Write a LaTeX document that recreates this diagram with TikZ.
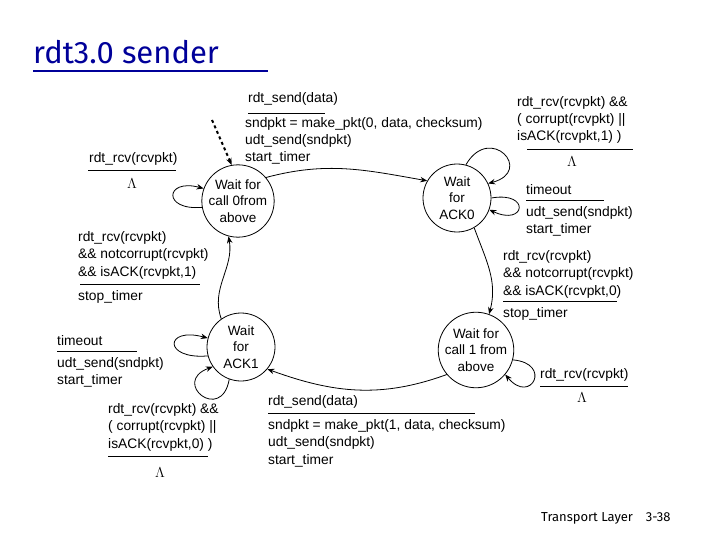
\documentclass[tikz,border=0pt]{standalone}
\usepackage{fontspec}
\setmainfont{Liberation Sans}
\newfontfamily\titlefont{Fira Sans}
\usetikzlibrary{arrows.meta}
\begin{document}
\begin{tikzpicture}[x=1pt,y=-1pt,
  state/.style={circle, draw, thick, minimum size=68pt, inner sep=0pt, align=center, font=\fontsize{13.5}{16.5}\selectfont},
  lbl/.style={anchor=north west, inner sep=0pt, align=left, font=\fontsize{13.8}{17.4}\selectfont},
  lam/.style={inner sep=0pt, font=\fontsize{15}{16}\selectfont},
  trans/.style={->, >={Stealth[length=7pt,width=5.5pt]}, thick},
  bar/.style={thick}]
\useasboundingbox (0,0) rectangle (720,540);
%\draw [help lines, step=50] (0,0) grid (720,540);

% title and footer
\node [anchor=base west, inner sep=0pt, text=blue!60!black, font=\titlefont\fontsize{31}{34}\selectfont] (title) at (33,64) {rdt3.0 sender};
\draw [blue!60!black, line width=1.5pt] (33,71)--(268,71);
\node [anchor=base west, inner sep=0pt, font=\titlefont\fontsize{13}{15}\selectfont] (foot) at (541,521) {Transport Layer\quad 3-38};

% states
\node [state] (call0) at (238,201) {Wait for\\call 0from\\above};
\node [state] (ack0) at (457,198) {Wait\\for\\ACK0};
\node [state] (ack1) at (241,347) {Wait\\for\\ACK1};
\node [state] (call1) at (476,350) {Wait for\\call 1 from\\above};

\coordinate (init) at (212,120);
\draw [trans, dashed, line width=2pt] (init) -- (call0.100);

% transitions
\draw [trans] (call0.40) to [out=15, in=170] (ack0.150);
\draw [trans] (ack0.-60) to [out=-70, in=75] (call1.70);
\draw [trans] (call1.-140) to [out=-160, in=-20] (ack1.-40);
\draw [trans] (ack1.125) to [out=110, in=-80] (call0.-105);

% self loops
\draw [trans] (call0.190) to [out=185, in=165, distance=40] (call0.160);
\draw [trans] (ack0.75) to [out=60, in=15, distance=48] (ack0.25);
\draw [trans] (ack0.0) to [out=10, in=-25, distance=40] (ack0.-20);
\draw [trans] (ack1.195) to [out=185, in=165, distance=45] (ack1.165);
\draw [trans] (ack1.-110) to [out=-100, in=-160, distance=45] (ack1.-145);
\draw [trans] (call1.-15) to [out=-5, in=-50, distance=40] (call1.-40);

% labels
\node [lbl] (l1) at (248,92) {rdt\_send(data)};
\draw [bar] (248,113)--(325,113);
\node [lbl] (l2) at (245,117) {sndpkt = make\_pkt(0, data, checksum)\\udt\_send(sndpkt)\\start\_timer};

\node [lbl] (l3) at (89,152) {rdt\_rcv(rcvpkt)};
\draw [bar] (88,170)--(176,170);
\node [lam] (lam1) at (132,184) {$\Lambda$};

\node [lbl] (l4) at (78,231) {rdt\_rcv(rcvpkt)\\\&\& notcorrupt(rcvpkt)\\\&\& isACK(rcvpkt,1)};
\draw [bar] (80,284)--(200,284);
\node [lbl] (l5) at (78,290) {stop\_timer};

\node [lbl] (l6) at (517,96) {rdt\_rcv(rcvpkt) \&\&\\( corrupt(rcvpkt) ||\\isACK(rcvpkt,1) )};
\draw [bar] (527,149)--(633,149);
\node [lam] (lam2) at (572,162) {$\Lambda$};

\node [lbl] (l7) at (526,184) {timeout};
\draw [bar] (526,200)--(604,200);
\node [lbl] (l8) at (526,206) {udt\_send(sndpkt)\\start\_timer};

\node [lbl] (l9) at (503,250) {rdt\_rcv(rcvpkt)\\\&\& notcorrupt(rcvpkt)\\\&\& isACK(rcvpkt,0)};
\draw [bar] (503,301)--(617,301);
\node [lbl] (l10) at (503,307) {stop\_timer};

\node [lbl] (l11) at (57,335) {timeout};
\draw [bar] (57,351)--(137,351);
\node [lbl] (l12) at (57,357) {udt\_send(sndpkt)\\start\_timer};

\node [lbl] (l13) at (108,403) {rdt\_rcv(rcvpkt) \&\&\\( corrupt(rcvpkt) ||\\isACK(rcvpkt,0) )};
\draw [bar] (108,456)--(208,456);
\node [lam] (lam3) at (160,473) {$\Lambda$};

\node [lbl] (l14) at (268,395) {rdt\_send(data)};
\draw [bar] (268,413)--(475,413);
\node [lbl] (l15) at (268,419) {sndpkt = make\_pkt(1, data, checksum)\\udt\_send(sndpkt)\\start\_timer};

\node [lbl] (l16) at (540,368) {rdt\_rcv(rcvpkt)};
\draw [bar] (540,386)--(628,386);
\node [lam] (lam4) at (582,398) {$\Lambda$};
\end{tikzpicture}
\end{document}
